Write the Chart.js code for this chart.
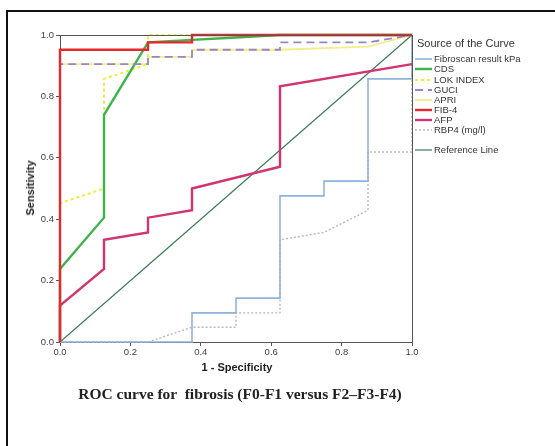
<!DOCTYPE html>
<html>
<head>
<meta charset="utf-8">
<script src="https://cdn.jsdelivr.net/npm/chart.js@4.4.1/dist/chart.umd.min.js"></script>
<style>
html, body { margin: 0; padding: 0; background: #fff; overflow: hidden; }
#wrap { position: relative; width: 555px; height: 446px; }
#frame { position: absolute; left: 6px; top: 10px; width: 620px; height: 520px; border: 2px solid #111; box-sizing: border-box; }
#roc { position: absolute; left: 0; top: 0; }
#xtitle { position: absolute; left: 0; width: 474px; top: 361px; text-align: center; font: bold 11px "Liberation Sans", Arial, sans-serif; color: #222; }
#ytitle { position: absolute; left: 30px; top: 188px; transform: translate(-50%, -50%) rotate(-90deg); white-space: nowrap; font: bold 11px "Liberation Sans", Arial, sans-serif; color: #222; }
#caption { position: absolute; left: 0; width: 480px; top: 385px; text-align: center; font: bold 15.5px "Liberation Serif", "Times New Roman", serif; color: #222; white-space: pre; }
</style>
</head>
<body>
<div id="wrap">
  <div id="frame"></div>
  <canvas id="roc" width="555" height="446"></canvas>
  <div id="xtitle">1 - Specificity</div>
  <div id="ytitle">Sensitivity</div>
  <div id="caption">ROC curve for  fibrosis (F0-F1 versus F2–F3-F4)</div>
</div>
<script>
// ROC points: x = 1 - specificity, y = sensitivity
const fibroscanX = [0, 0.375, 0.375, 0.5, 0.5, 0.625, 0.625, 0.75, 0.75, 0.875, 0.875, 1, 1];
const fibroscanY = [0, 0, 0.095, 0.095, 0.143, 0.143, 0.476, 0.476, 0.524, 0.524, 0.857, 0.857, 1];

const cdsX = [0, 0, 0.125, 0.125, 0.25, 0.375, 0.5, 0.625, 1];
const cdsY = [0, 0.238, 0.405, 0.74, 0.976, 0.984, 0.992, 1, 1];

const lokX = [0, 0, 0.125, 0.125, 0.25, 0.25, 1];
const lokY = [0, 0.452, 0.5, 0.857, 0.905, 1, 1];

const guciX = [0, 0, 0.25, 0.25, 0.375, 0.375, 0.625, 0.625, 0.875, 1];
const guciY = [0, 0.905, 0.905, 0.929, 0.929, 0.952, 0.952, 0.976, 0.976, 1];

const apriX = [0, 0, 0.25, 0.25, 0.375, 0.375, 0.625, 0.875, 1];
const apriY = [0, 0.905, 0.905, 0.929, 0.929, 0.952, 0.952, 0.962, 1];

const fib4X = [0, 0, 0.25, 0.25, 0.375, 0.375, 1];
const fib4Y = [0, 0.952, 0.952, 0.976, 0.976, 1, 1];

const afpX = [0, 0, 0.125, 0.125, 0.25, 0.25, 0.375, 0.375, 0.625, 0.625, 1];
const afpY = [0, 0.119, 0.238, 0.333, 0.357, 0.405, 0.429, 0.5, 0.571, 0.833, 0.905];

const rbp4X = [0, 0.25, 0.375, 0.5, 0.5, 0.625, 0.625, 0.75, 0.875, 0.875, 1, 1];
const rbp4Y = [0, 0, 0.048, 0.048, 0.095, 0.095, 0.333, 0.357, 0.429, 0.619, 0.619, 1];

const refX = [0, 1];
const refY = [0, 1];

const axisTicks = [0, 0.2, 0.4, 0.6, 0.8, 1.0];

function pts(xs, ys) {
    return xs.map((x, i) => ({ x: x, y: ys[i] }));
}

// legend order as in the picture; order = draw stacking (lower drawn on top)
const curves = [
    { label: 'Fibroscan result kPa', data: pts(fibroscanX, fibroscanY), color: '#8fb4dc', width: 1.6, dash: [], order: 7 },
    { label: 'CDS', data: pts(cdsX, cdsY), color: '#3cb44a', width: 2.4, dash: [], order: 3 },
    { label: 'LOK INDEX', data: pts(lokX, lokY), color: '#eeee3a', width: 2, dash: [3, 3], order: 4 },
    { label: 'GUCI', data: pts(guciX, guciY), color: '#9b86c2', width: 1.8, dash: [8, 5], order: 2 },
    { label: 'APRI', data: pts(apriX, apriY), color: '#f2ee8a', width: 1.8, dash: [], order: 5 },
    { label: 'FIB-4', data: pts(fib4X, fib4Y), color: '#e5282c', width: 2.4, dash: [], order: 1 },
    { label: 'AFP', data: pts(afpX, afpY), color: '#d23470', width: 2.4, dash: [], order: 6 },
    { label: 'RBP4 (mg/l)', data: pts(rbp4X, rbp4Y), color: '#bdb6b6', width: 1.4, dash: [2, 2], order: 8 },
    { label: 'Reference Line', data: pts(refX, refY), color: '#3d7a5e', width: 1.2, dash: [], order: 9 }
];

const frameAndLegend = {
    id: 'frameAndLegend',
    afterDatasetsDraw(chart) {
        const ctx = chart.ctx;
        const a = chart.chartArea;
        ctx.save();
        // top and right plot frame
        ctx.strokeStyle = '#555';
        ctx.lineWidth = 1;
        ctx.beginPath();
        ctx.moveTo(a.left, a.top + 0.5);
        ctx.lineTo(a.right + 0.5, a.top + 0.5);
        ctx.lineTo(a.right + 0.5, a.bottom);
        ctx.stroke();

        // legend
        ctx.fillStyle = '#333';
        ctx.textBaseline = 'middle';
        ctx.font = '11px "Liberation Sans", Arial, sans-serif';
        ctx.fillText('Source of the Curve', 417, 44);
        ctx.font = '9.5px "Liberation Sans", Arial, sans-serif';
        const rowY = [59, 69, 80, 90, 100, 110, 120, 130, 150];
        curves.forEach((c, i) => {
            const y = rowY[i];
            ctx.strokeStyle = c.color;
            ctx.lineWidth = c.width;
            ctx.setLineDash(c.dash);
            ctx.beginPath();
            ctx.moveTo(415, y);
            ctx.lineTo(432, y);
            ctx.stroke();
            ctx.setLineDash([]);
            ctx.fillStyle = '#333';
            ctx.fillText(c.label, 434, y + 0.5);
        });
        ctx.restore();
    }
};

new Chart(document.getElementById('roc'), {
    type: 'line',
    data: {
        datasets: curves.map(c => ({
            label: c.label,
            data: c.data,
            borderColor: c.color,
            borderWidth: c.width,
            borderDash: c.dash,
            pointRadius: 0,
            tension: 0,
            fill: false,
            clip: false,
            order: c.order
        }))
    },
    options: {
        responsive: false,
        animation: false,
        layout: { padding: { left: 6, top: 35, right: 143, bottom: 84 } },
        plugins: { legend: { display: false }, tooltip: { enabled: false } },
        scales: {
            x: {
                type: 'linear',
                min: 0,
                max: 1,
                afterBuildTicks: s => { s.ticks = axisTicks.map(v => ({ value: v })); },
                afterFit: s => { s.height = 20; },
                ticks: {
                    callback: v => Number(v).toFixed(1),
                    font: { size: 9.5, family: '"Liberation Sans", Arial, sans-serif' },
                    color: '#444',
                    padding: 1,
                    maxRotation: 0
                },
                grid: { drawOnChartArea: false, drawTicks: true, tickLength: 4, color: '#555' },
                border: { color: '#555', width: 1 }
            },
            y: {
                type: 'linear',
                min: 0,
                max: 1,
                afterBuildTicks: s => { s.ticks = axisTicks.map(v => ({ value: v })); },
                afterFit: s => { s.width = 54; },
                ticks: {
                    callback: v => Number(v).toFixed(1),
                    font: { size: 9.5, family: '"Liberation Sans", Arial, sans-serif' },
                    color: '#444',
                    padding: 2
                },
                grid: { drawOnChartArea: false, drawTicks: true, tickLength: 4, color: '#555' },
                border: { color: '#555', width: 1 }
            }
        }
    },
    plugins: [frameAndLegend]
});
</script>
</body>
</html>
